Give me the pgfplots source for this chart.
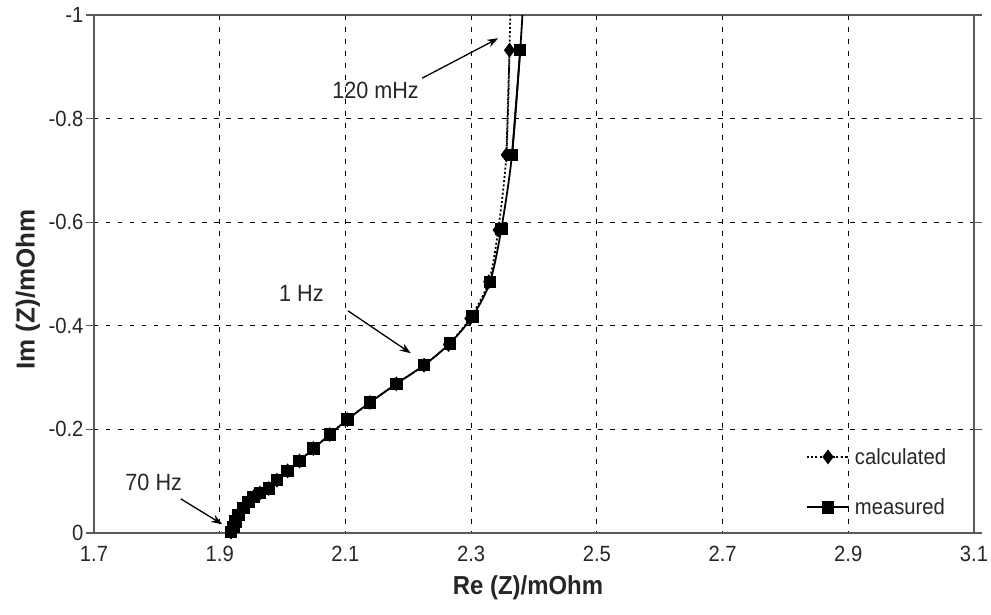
\documentclass[border=0pt]{standalone}
\usepackage{fontspec}
\setmainfont{Liberation Sans}[FakeStretch=0.92]
\newfontfamily\ylfont{Liberation Sans}
\usepackage{pgfplots}
\pgfplotsset{compat=1.18}
\usetikzlibrary{arrows.meta}
\newcommand{\tk}{\fontsize{22}{25}\selectfont}
\newcommand{\an}{\fontsize{23.5}{26}\selectfont}
\begin{document}
\begin{tikzpicture}
\useasboundingbox (-94pt,-81pt) rectangle (897pt,533pt);
\begin{axis}[
  at={(0pt,0pt)}, anchor=south west,
  scale only axis, width=880pt, height=518pt,
  xmin=1.7, xmax=3.1, ymin=-1, ymax=0, y dir=reverse,
  xtick={1.7,1.9,2.1,2.3,2.5,2.7,2.9,3.1},
  xticklabels={1.7,1.9,2.1,2.3,2.5,2.7,2.9,3.1},
  ytick={-1,-0.8,-0.6,-0.4,-0.2,0},
  yticklabels={-1,-0.8,-0.6,-0.4,-0.2,0},
  grid=major,
  major grid style={black, line width=0.9pt, dash pattern=on 4.5pt off 7.5pt},
  axis line style={line width=1.1pt, black!65},
  xtick style={draw=none},
  ytick style={black!65, line width=1.1pt},
  tick align=outside, major tick length=8pt,
  tick label style={font=\tk, text=black!85},
  xticklabel style={yshift=-2pt},
  yticklabel style={xshift=1pt},
  xlabel={Re (Z)/mOhm}, ylabel={\ylfont\bfseries Im (Z)/mOhm},
  label style={font=\bfseries\fontsize{26}{28}\selectfont, text=black!85},
  xlabel style={at={(axis description cs:0.5,0)}, anchor=center, yshift=-55pt, xshift=-6pt},
  ylabel style={at={(axis description cs:0,0.47)}, anchor=center, yshift=66pt},
  legend style={at={(axis description cs:0.809,0.168)}, anchor=north west,
    draw=none, fill=none, inner sep=0pt, row sep=29pt,
    font=\tk, text=black!85,
    nodes={inner xsep=5pt}},
  legend cell align=left,
  legend image code/.code={\draw[mark repeat=2,mark phase=2,#1] plot coordinates {(0pt,0pt) (21pt,0pt) (42pt,0pt)};},
]
% extensions beyond the top (line only)
\addplot[black, line width=1.8pt, dash pattern=on 2pt off 2.2pt, smooth, forget plot] coordinates {
  (2.356,-0.730) (2.361,-0.932) (2.363,-1.05)};
\addplot[black, line width=1.8pt, smooth, forget plot] coordinates {
  (2.365,-0.730) (2.378,-0.932) (2.384,-1.05)};
\addplot[black, line width=1.8pt, dash pattern=on 2pt off 2.2pt, smooth, mark=diamond*, mark size=6pt,
  mark options={solid}] coordinates {
  (1.918,-0.002) (1.922,-0.012) (1.925,-0.022) (1.930,-0.035) (1.938,-0.048)
  (1.946,-0.060) (1.954,-0.070) (1.964,-0.077) (1.978,-0.086) (1.991,-0.102)
  (2.008,-0.120) (2.027,-0.139) (2.049,-0.163) (2.075,-0.190) (2.103,-0.219)
  (2.139,-0.252) (2.181,-0.288) (2.225,-0.324) (2.264,-0.364) (2.298,-0.414)
  (2.328,-0.485) (2.343,-0.585) (2.356,-0.730) (2.361,-0.932)};
\addlegendentry{calculated}
\addplot[black, line width=1.8pt, smooth, mark=square*, mark size=5.3pt] coordinates {
  (1.918,-0.002) (1.922,-0.012) (1.925,-0.022) (1.930,-0.035) (1.938,-0.048)
  (1.946,-0.060) (1.954,-0.070) (1.964,-0.077) (1.978,-0.086) (1.991,-0.102)
  (2.008,-0.120) (2.027,-0.139) (2.049,-0.163) (2.075,-0.190) (2.103,-0.219)
  (2.139,-0.252) (2.181,-0.288) (2.225,-0.324) (2.266,-0.366) (2.302,-0.418)
  (2.330,-0.485) (2.348,-0.587) (2.365,-0.730) (2.378,-0.932)};
\addlegendentry{measured}
% annotations
\node[font=\an, text=black!85, anchor=west] at (axis cs:2.0735,-0.855) {120 mHz};
\draw[-{Stealth[length=11pt,width=8pt]}, line width=1.3pt] (axis cs:2.222,-0.878) -- (axis cs:2.343,-0.955);
\node[font=\an, text=black!85] at (axis cs:2.030,-0.463) {1 Hz};
\draw[-{Stealth[length=11pt,width=8pt]}, line width=1.3pt] (axis cs:2.104,-0.429) -- (axis cs:2.204,-0.347);
\node[font=\an, text=black!85] at (axis cs:1.795,-0.098) {70 Hz};
\draw[-{Stealth[length=11pt,width=8pt]}, line width=1.3pt] (axis cs:1.838,-0.066) -- (axis cs:1.904,-0.017);
\end{axis}
\end{tikzpicture}
\end{document}
